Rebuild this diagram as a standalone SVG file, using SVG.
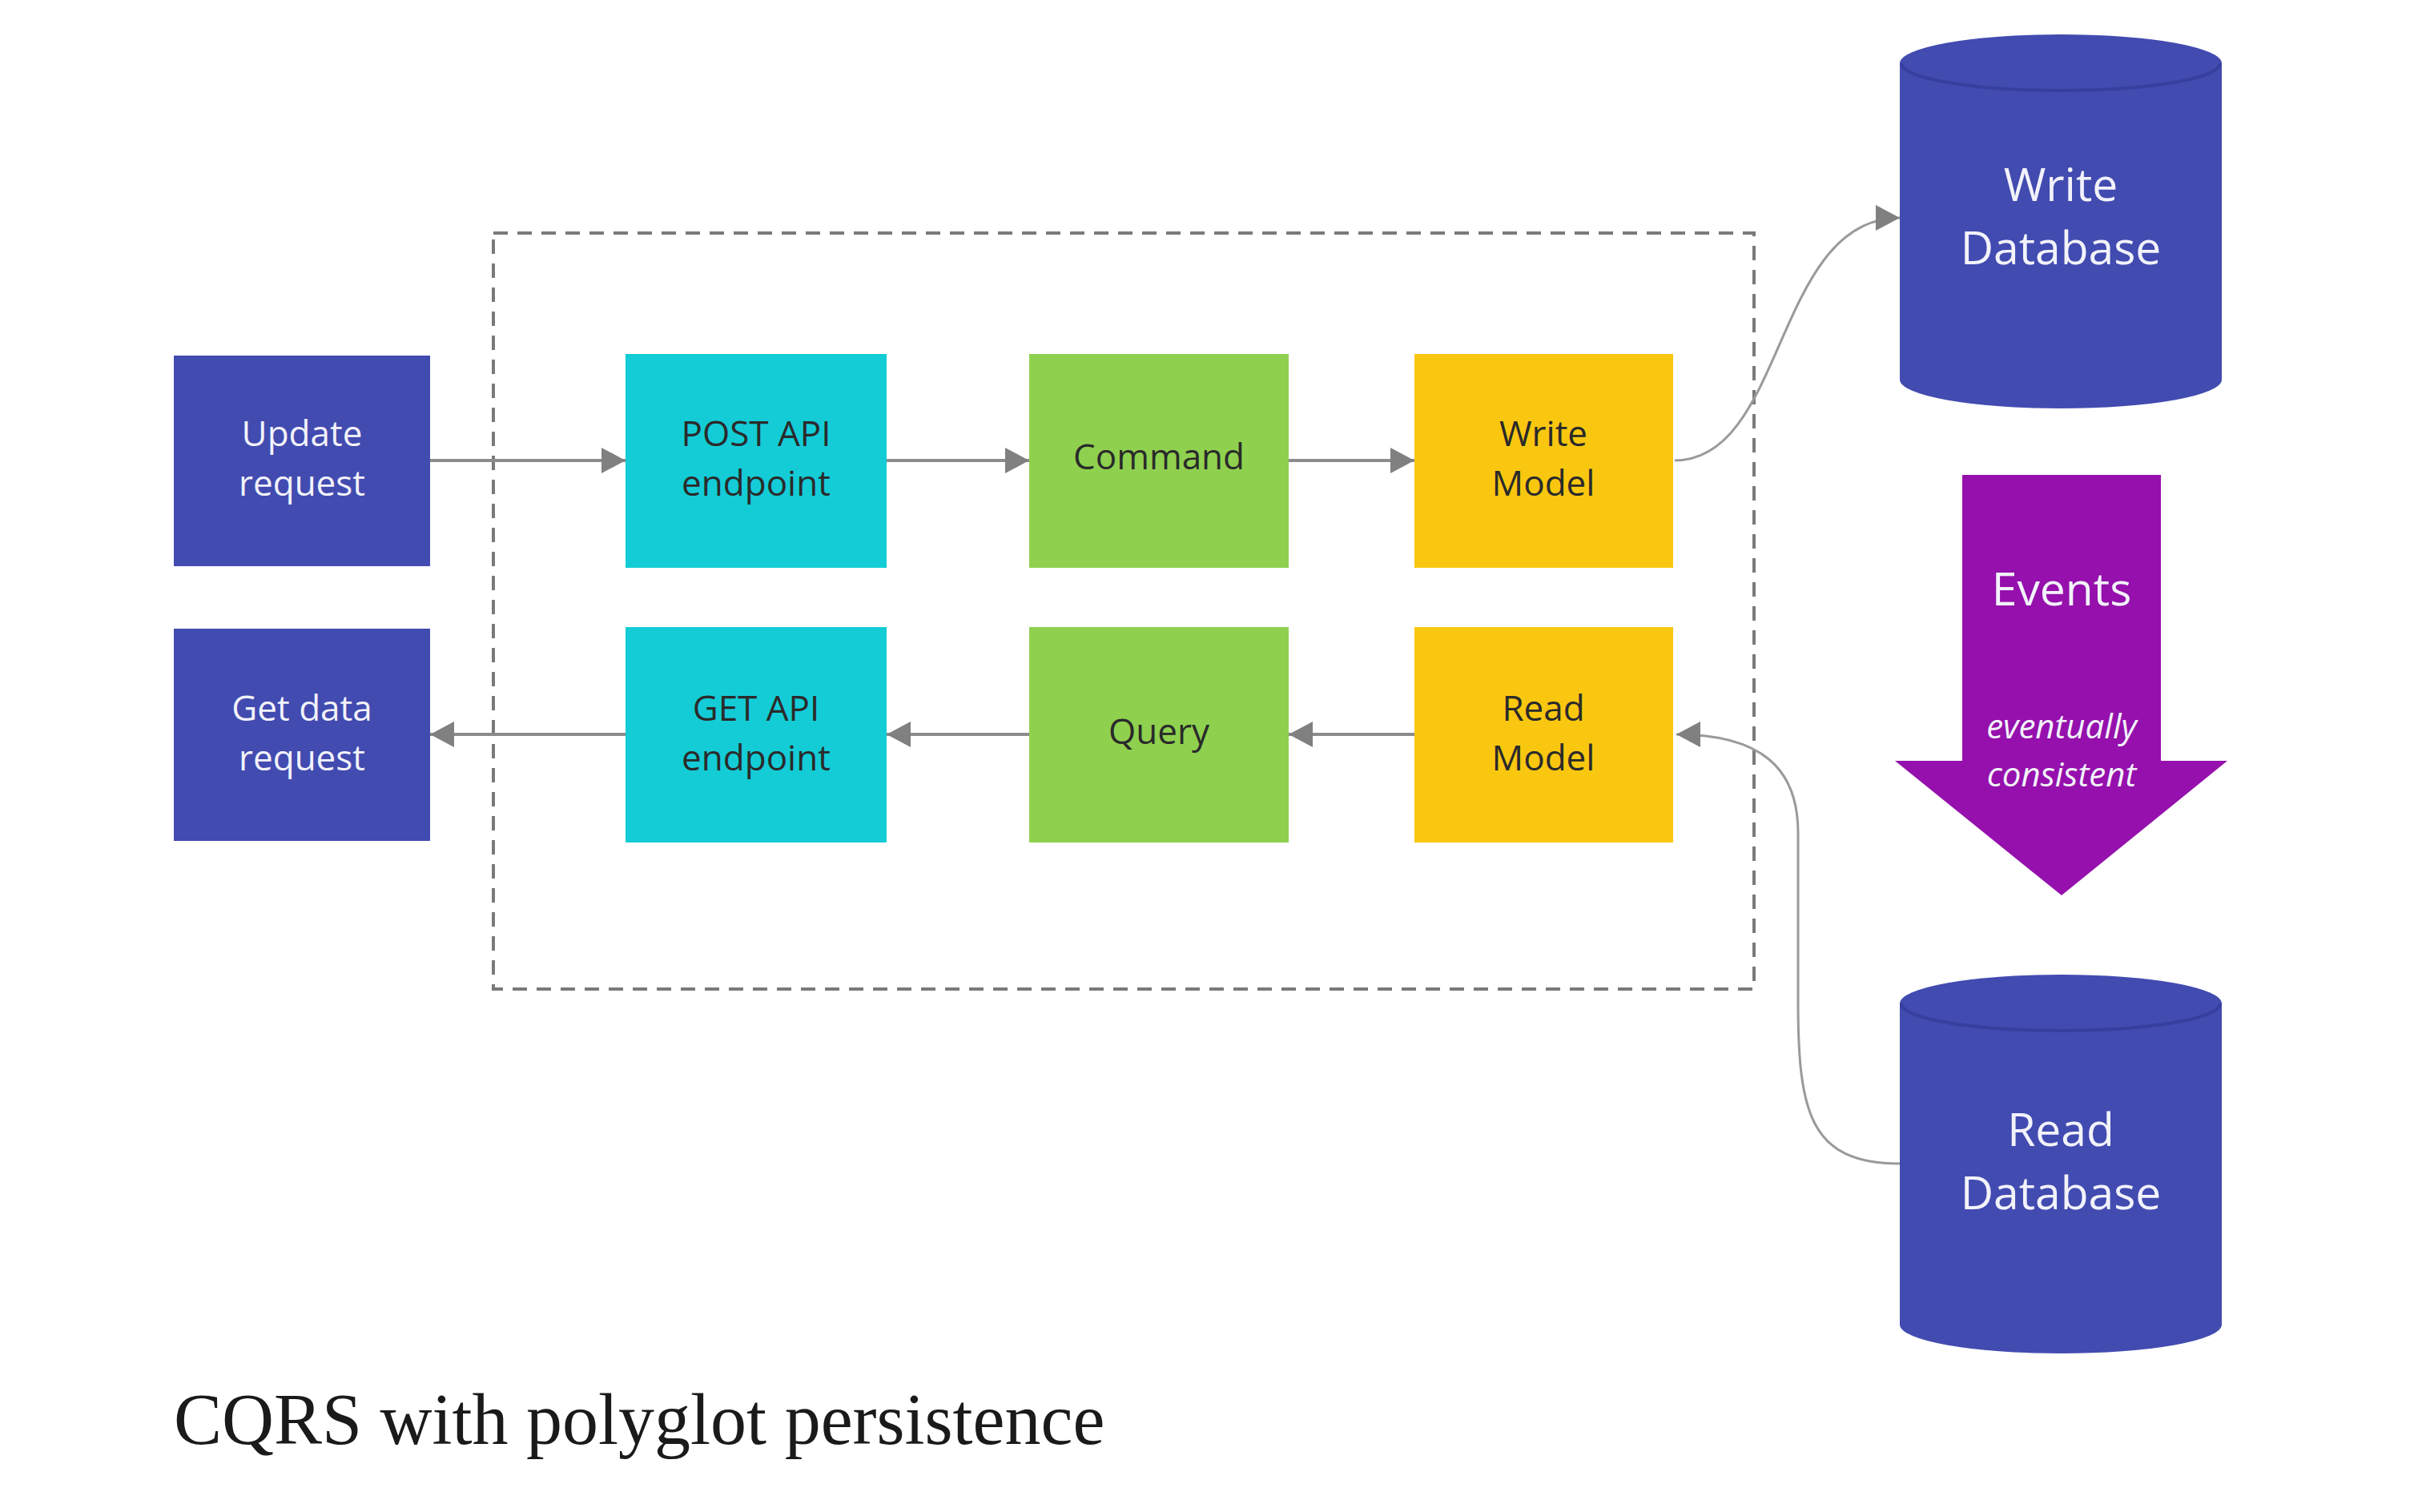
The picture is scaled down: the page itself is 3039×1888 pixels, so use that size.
<svg xmlns="http://www.w3.org/2000/svg" width="3039" height="1888" viewBox="0 0 3039 1888">
  <defs>
    <marker id="arr" markerUnits="userSpaceOnUse" markerWidth="34" markerHeight="34" refX="30" refY="16" orient="auto">
      <path d="M0,0 L30,16 L0,32 Z" fill="#808080"/>
    </marker>
    <style>
      .lbl { font-family: "Open Sans", "Noto Sans", sans-serif; font-size: 44px; text-anchor: middle; }
      .dark { fill: #2a2a2a; }
      .light { fill: #f2f2fa; }
      .big { font-family: "Open Sans", "Noto Sans", sans-serif; font-size: 57px; text-anchor: middle; fill: #f2f2fa; }
      .ital { font-family: "Open Sans", "Noto Sans", sans-serif; font-size: 42px; font-style: italic; text-anchor: middle; fill: #f2f2fa; }
      .conn { fill: none; stroke: #8c8c8c; stroke-width: 4; }
      .curve { fill: none; stroke: #9a9a9a; stroke-width: 3; }
      .blue { fill: #424bb0; }
      .cyan { fill: #14ccd6; }
      .green { fill: #8fd14f; }
      .yellow { fill: #fac710; }
      .rim { fill: none; stroke: #373f9e; stroke-width: 4; }
    </style>
  </defs>
  <rect width="3039" height="1888" fill="#ffffff"/>

  <g id="boundary">
    <rect x="616" y="291" width="1574" height="944" fill="none" stroke="#7a7a7a" stroke-width="4" stroke-dasharray="18 12"/>
  </g>

  <g id="connectors">
    <line class="conn" x1="537" y1="575" x2="781" y2="575" marker-end="url(#arr)"/>
    <line class="conn" x1="1107" y1="575" x2="1285" y2="575" marker-end="url(#arr)"/>
    <line class="conn" x1="1609" y1="575" x2="1766" y2="575" marker-end="url(#arr)"/>
    <line class="conn" x1="1766" y1="917" x2="1609" y2="917" marker-end="url(#arr)"/>
    <line class="conn" x1="1285" y1="917" x2="1107" y2="917" marker-end="url(#arr)"/>
    <line class="conn" x1="781" y1="917" x2="537" y2="917" marker-end="url(#arr)"/>
    <path class="curve" d="M2091,575 C2230,575 2215,272 2372,272" marker-end="url(#arr)"/>
    <path class="curve" d="M2372,1453 C2260,1453 2245,1390 2245,1250 L2245,1040 C2245,960 2200,917 2093,917" marker-end="url(#arr)"/>
  </g>

  <g id="update-request">
    <rect class="blue" x="217" y="444" width="320" height="263"/>
    <text class="lbl light" x="377" y="557">Update</text>
    <text class="lbl light" x="377" y="619">request</text>
  </g>
  <g id="get-data-request">
    <rect class="blue" x="217" y="785" width="320" height="265"/>
    <text class="lbl light" x="377" y="900">Get data</text>
    <text class="lbl light" x="377" y="962">request</text>
  </g>
  <g id="post-api">
    <rect class="cyan" x="781" y="442" width="326" height="267"/>
    <text class="lbl dark" x="944" y="557">POST API</text>
    <text class="lbl dark" x="944" y="619">endpoint</text>
  </g>
  <g id="get-api">
    <rect class="cyan" x="781" y="783" width="326" height="269"/>
    <text class="lbl dark" x="944" y="900">GET API</text>
    <text class="lbl dark" x="944" y="962">endpoint</text>
  </g>
  <g id="command">
    <rect class="green" x="1285" y="442" width="324" height="267"/>
    <text class="lbl dark" x="1447" y="586">Command</text>
  </g>
  <g id="query">
    <rect class="green" x="1285" y="783" width="324" height="269"/>
    <text class="lbl dark" x="1447" y="929">Query</text>
  </g>
  <g id="write-model">
    <rect class="yellow" x="1766" y="442" width="323" height="267"/>
    <text class="lbl dark" x="1927" y="557">Write</text>
    <text class="lbl dark" x="1927" y="619">Model</text>
  </g>
  <g id="read-model">
    <rect class="yellow" x="1766" y="783" width="323" height="269"/>
    <text class="lbl dark" x="1927" y="900">Read</text>
    <text class="lbl dark" x="1927" y="962">Model</text>
  </g>

  <g id="write-database">
    <path class="blue" d="M2372,79 L2372,474 A201,36 0 0 0 2774,474 L2774,79 A201,36 0 0 0 2372,79 Z"/>
    <path class="rim" d="M2374,79 A199,34 0 0 0 2772,79"/>
    <text class="big" x="2573" y="251">Write</text>
    <text class="big" x="2573" y="330">Database</text>
  </g>

  <g id="events">
    <path d="M2450,593 L2698,593 L2698,950 L2781,950 L2574,1118 L2366,950 L2450,950 Z" fill="#9510ac"/>
    <text class="big" x="2574" y="756">Events</text>
    <text class="ital" x="2574" y="922">eventually</text>
    <text class="ital" x="2574" y="982">consistent</text>
  </g>

  <g id="read-database">
    <path class="blue" d="M2372,1253 L2372,1654 A201,36 0 0 0 2774,1654 L2774,1253 A201,36 0 0 0 2372,1253 Z"/>
    <path class="rim" d="M2374,1253 A199,34 0 0 0 2772,1253"/>
    <text class="big" x="2573" y="1431">Read</text>
    <text class="big" x="2573" y="1510">Database</text>
  </g>

  <g id="caption">
    <text x="217" y="1803" font-family="'Liberation Serif', 'Times New Roman', serif" font-size="90" fill="#1a1a1a">CQRS with polyglot persistence</text>
  </g>
</svg>
